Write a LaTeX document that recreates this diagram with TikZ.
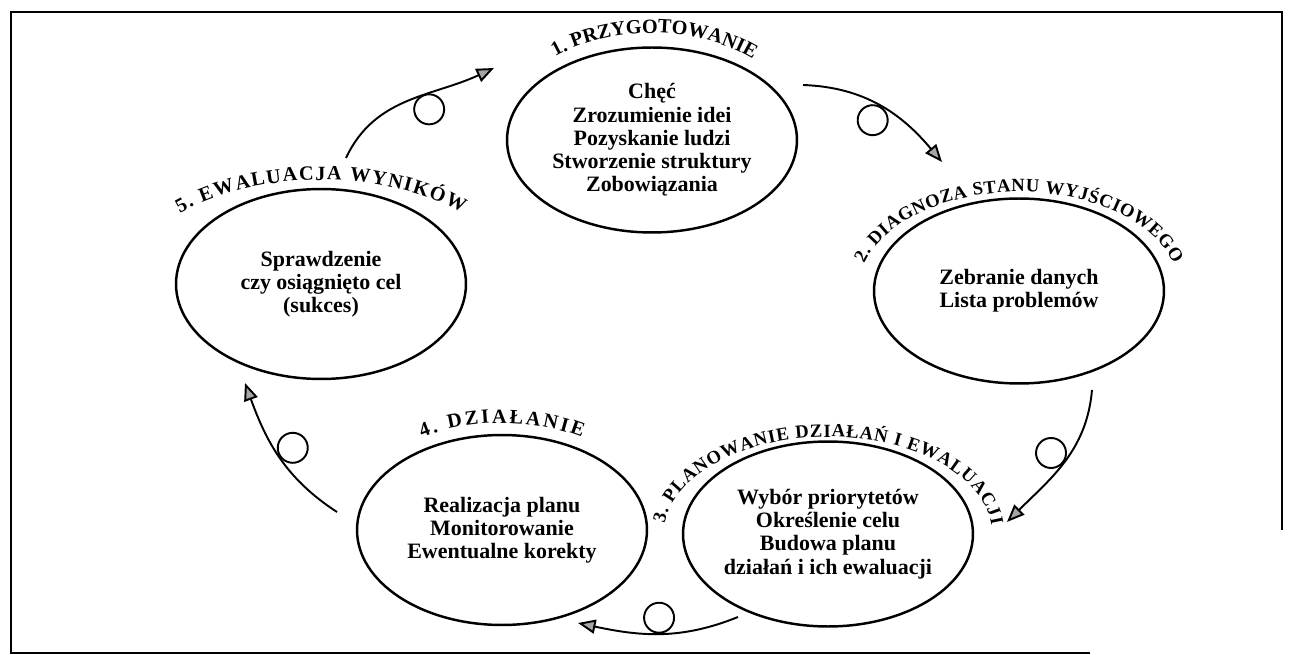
\documentclass[tikz,border=0pt]{standalone}
\usepackage{fontspec}
\setmainfont{Liberation Serif}
\usetikzlibrary{shapes.geometric, arrows.meta, decorations.text, calc}

\tikzset{
  stage/.style = {draw, ellipse, line width=1.4pt, minimum width=5.8cm, minimum height=3.7cm,
    inner xsep=-0.5cm, inner ysep=0pt, align=center, font=\bfseries\fontsize{12.5}{13.2}\selectfont},
  cyclearrow/.style = {line width=1.1pt, -{Triangle[length=10pt, width=8pt, fill=gray!70]}},
  loopmark/.style = {draw, circle, line width=1.1pt, minimum size=0.6cm, inner sep=0pt,
    sloped, allow upside down, anchor=north},
  stagelabel/.style 2 args = {decorate, decoration={text along path, text align=fit to path,
    text={|\bfseries\fontsize{#1}{#1}\selectfont|#2}}}
}

\begin{document}
\begin{tikzpicture}[x=0.02cm, y=0.02cm]
  \useasboundingbox (0,0) rectangle (1292,-655);
  \draw[line width=1.4pt] (1090,-653) -- (11,-653) -- (11,-12) -- (1282,-12) -- (1282,-530);

  \node[stage] (prep) at (652,-140) {Chęć\\Zrozumienie idei\\Pozyskanie ludzi\\Stworzenie struktury\\Zobowiązania};
  \node[stage] (diag) at (1019,-291) {Zebranie danych\\Lista problemów};
  \node[stage] (plan) at (828,-534) {Wybór priorytetów\\Określenie celu\\Budowa planu\\działań i ich ewaluacji};
  \node[stage, minimum height=3.8cm] (act) at (502,-530) {Realizacja planu\\Monitorowanie\\Ewentualne korekty};
  \node[stage, minimum height=3.8cm] (eval) at (321,-284) {Sprawdzenie\\czy osiągnięto cel\\(sukces)};

  % titles over the ellipses
  \path[stagelabel={11.5}{1. PRZYGOTOWANIE}] ($(prep.center)+(129:154 and 107)$) arc[start angle=129, end angle=51, x radius=154, y radius=107];
  \path[stagelabel={10.6}{2. DIAGNOZA STANU WYJŚCIOWEGO}] ($(diag.center)+(164:161 and 99)$) arc[start angle=164, end angle=16, x radius=161, y radius=99];
  \path[stagelabel={10.6}{3. PLANOWANIE DZIAŁAŃ I EWALUACJI}] ($(plan.center)+(174:164 and 97)$) arc[start angle=174, end angle=5, x radius=164, y radius=97];
  \path[stagelabel={11.5}{4. DZIAŁANIE}] ($(act.center)+(120:160 and 107)$) arc[start angle=120, end angle=60, x radius=160, y radius=107];
  \path[stagelabel={11.5}{5. EWALUACJA WYNIKÓW}] ($(eval.center)+(137:193 and 104)$) arc[start angle=137, end angle=43, x radius=193, y radius=104];

  \coordinate (s51) at (346,-158);
  \coordinate (e51) at (494,-68);
  \coordinate (s12) at (803,-85);
  \coordinate (e12) at (942,-162);
  \coordinate (s23) at (1092,-390);
  \coordinate (e23) at (1007,-522);
  \coordinate (s34) at (738,-617);
  \coordinate (e34) at (578,-623);
  \coordinate (s45) at (337,-512);
  \coordinate (e45) at (245,-383);

  \draw[cyclearrow] (s51) to[out=65, in=205] node[loopmark, pos=0.6] {} (e51);
  \draw[cyclearrow] (s12) to[out=-2, in=130] node[loopmark, pos=0.5] {} (e12);
  \draw[cyclearrow] (s23) to[out=-95, in=45] node[loopmark, pos=0.5] {} (e23);
  \draw[cyclearrow] (s34) to[out=202, in=-12] node[loopmark, pos=0.5] {} (e34);
  \draw[cyclearrow] (s45) to[out=147, in=-70] node[loopmark, pos=0.5] {} (e45);
\end{tikzpicture}
\end{document}
